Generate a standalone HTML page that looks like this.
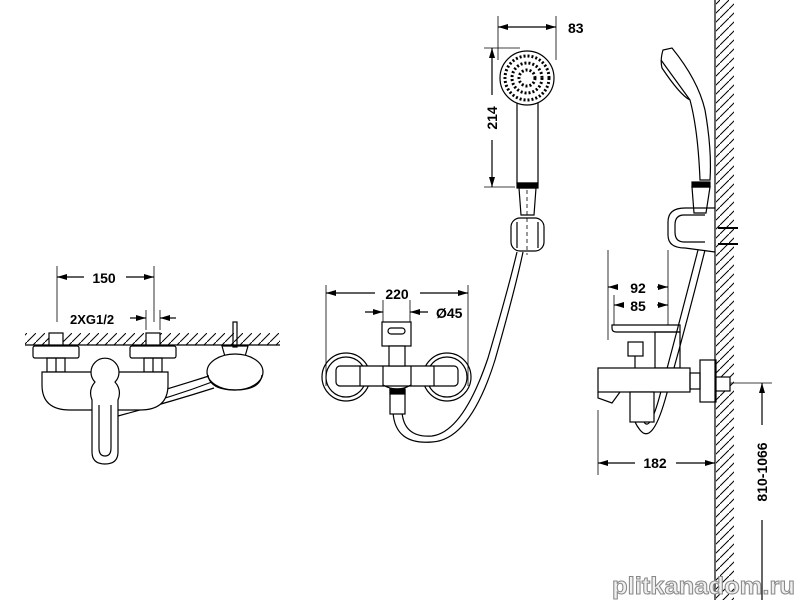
<!DOCTYPE html>
<html><head><meta charset="utf-8"><style>
html,body{margin:0;padding:0;background:#fff;}
svg{display:block;}
text{font-family:"Liberation Sans",Arial,sans-serif;font-weight:bold;fill:#000;}
</style></head><body>
<svg width="800" height="600" viewBox="0 0 800 600" xmlns="http://www.w3.org/2000/svg">
<defs>
<pattern id="h" width="9" height="9" patternUnits="userSpaceOnUse">
<line x1="0" y1="9" x2="9" y2="0" stroke="#000" stroke-width="1"/>
</pattern>
<marker id="a" viewBox="0 0 10 6" refX="10" refY="3" markerWidth="10" markerHeight="6" orient="auto-start-reverse" markerUnits="userSpaceOnUse">
<path d="M0,0 L10,3 L0,6 z" fill="#000"/>
</marker>
</defs>
<g fill="none" stroke="#000" stroke-width="1.2">

<!-- LEFT VIEW -->
<rect x="25" y="333" width="255" height="12" fill="url(#h)" stroke="none"/>
<line x1="25" y1="345" x2="280" y2="345"/>
<line x1="57" y1="266" x2="57" y2="322" stroke-width="0.8"/>
<line x1="154" y1="266" x2="154" y2="322" stroke-width="0.8"/>
<line x1="57" y1="277" x2="84" y2="277" marker-start="url(#a)"/>
<line x1="126" y1="277" x2="154" y2="277" marker-end="url(#a)"/>
<line x1="146" y1="310" x2="146" y2="330" stroke-width="0.8"/>
<line x1="160" y1="310" x2="160" y2="330" stroke-width="0.8"/>
<line x1="130" y1="318" x2="146" y2="318" marker-end="url(#a)"/>
<line x1="176" y1="318" x2="160" y2="318" marker-end="url(#a)"/>
<rect x="49" y="333" width="14" height="12" fill="#fff"/>
<rect x="146" y="333" width="14" height="12" fill="#fff"/>
<rect x="33" y="346" width="46" height="12" rx="2"/>
<rect x="130" y="346" width="46" height="12" rx="2"/>
<rect x="47" y="358" width="18" height="14"/><line x1="56" y1="358" x2="56" y2="372"/>
<rect x="144" y="358" width="18" height="14"/><line x1="153" y1="358" x2="153" y2="372"/>
<path d="M120,403 Q165,390 212,375 M122,410 Q170,398 212,382 M118,416 Q170,402 214,388"/>
<path d="M42,372 H168 V385 Q168,410 140,410 H70 Q42,410 42,385 Z" fill="#fff"/>
<path d="M92,400 Q88,390 95,382 A14,14 0 1 1 115,382 Q122,390 118,400 L118,452 Q118,464 105,464 Q92,464 92,452 Z" fill="#fff"/>
<path d="M99,405 V448 Q99,456 105,456 Q111,456 111,448 V405"/>
<rect x="233" y="322" width="4" height="25"/>
<path d="M222,346 H248 L244,360 H226 Z"/>
<ellipse cx="235" cy="372" rx="28" ry="18" fill="#fff"/>
<path d="M208,375 Q210,390 235,390 Q260,390 262,375"/>

<!-- MIDDLE VIEW -->
<line x1="326" y1="285" x2="326" y2="386" stroke-width="0.8"/>
<line x1="468" y1="285" x2="468" y2="386" stroke-width="0.8"/>
<line x1="326" y1="293" x2="375" y2="293" marker-start="url(#a)"/>
<line x1="420" y1="293" x2="468" y2="293" marker-end="url(#a)"/>
<line x1="383" y1="300" x2="383" y2="345" stroke-width="0.8"/>
<line x1="410" y1="300" x2="410" y2="345" stroke-width="0.8"/>
<line x1="365" y1="312" x2="383" y2="312" marker-end="url(#a)"/>
<line x1="428" y1="312" x2="410" y2="312" marker-end="url(#a)"/>
<circle cx="346" cy="377" r="24"/><circle cx="346" cy="377" r="20"/>
<circle cx="447" cy="377" r="24"/><circle cx="447" cy="377" r="20"/>
<path d="M393,412 Q395,445 432,442 Q470,440 495,360 Q515,290 523,252"/>
<path d="M402,412 Q404,438 432,436 Q463,432 488,358 Q508,290 517,252"/>
<rect x="336" y="366" width="122" height="20" rx="4" fill="#fff"/>
<line x1="360" y1="366" x2="360" y2="386"/><line x1="434" y1="366" x2="434" y2="386"/>
<path d="M383,366 V385 Q397,393 411,385 V366"/>
<rect x="382" y="322" width="29" height="24" fill="#fff"/>
<rect x="388" y="328" width="17" height="6" rx="3"/>
<rect x="389" y="346" width="16" height="20" fill="#fff"/>
<rect x="390" y="389" width="15" height="25" fill="#fff"/>
<rect x="390" y="389" width="15" height="5" fill="#000"/>
<line x1="498" y1="16" x2="498" y2="60" stroke-width="0.8"/>
<line x1="556" y1="16" x2="556" y2="60" stroke-width="0.8"/>
<line x1="498" y1="27" x2="556" y2="27" marker-start="url(#a)" marker-end="url(#a)"/>
<line x1="484" y1="48" x2="520" y2="48" stroke-width="0.8"/>
<line x1="484" y1="187" x2="515" y2="187" stroke-width="0.8"/>
<line x1="492" y1="48" x2="492" y2="95" marker-start="url(#a)"/>
<line x1="492" y1="140" x2="492" y2="187" marker-end="url(#a)"/>
<rect x="517" y="100" width="21" height="83"/>
<circle cx="527" cy="78" r="27" fill="#fff"/>
<circle cx="527" cy="78" r="22" stroke-width="3" stroke-dasharray="2 2"/>
<circle cx="527" cy="78" r="15" stroke-width="3" stroke-dasharray="2 2"/>
<circle cx="527" cy="78" r="8" stroke-width="3" stroke-dasharray="2 2"/>
<rect x="517" y="183" width="21" height="5" fill="#000"/>
<path d="M519,188 H536 L534,215 H521 Z"/>
<rect x="511" y="218" width="33" height="33" rx="9" fill="#fff"/>
<line x1="517" y1="222" x2="517" y2="248"/><line x1="538" y1="222" x2="538" y2="248"/>
<line x1="527" y1="190" x2="527" y2="255" stroke-dasharray="4 3" stroke-width="0.8"/>

<!-- RIGHT VIEW -->
<rect x="716" y="0" width="18" height="600" fill="url(#h)" stroke="none"/>
<line x1="715" y1="0" x2="715" y2="600"/>
<path d="M663,50 Q660,60 662,68 Q680,95 690,100 Q698,130 700,180 H710 Q712,150 705,110 Q698,80 672,48 Z" fill="#fff"/>
<path d="M661,60 L690,100"/>
<rect x="692" y="182" width="18" height="5" fill="#000"/>
<path d="M692,187 H710 L706,213 H694 Z"/>
<path d="M715,208 H685 Q668,208 668,222 V235 Q668,248 685,248 L715,252"/>
<path d="M705,215 H684 Q675,215 675,225 V232 Q675,242 684,242 H705"/>
<path d="M718,228 H738 M718,244 H738" stroke-width="2"/>
<path d="M705,250 Q685,330 665,400 Q652,445 640,430 Q632,420 632,408"/>
<path d="M698,250 Q680,320 660,395 Q650,432 644,422"/>
<line x1="608" y1="250" x2="608" y2="340" stroke-width="0.8"/>
<line x1="668" y1="250" x2="668" y2="325" stroke-width="0.8"/>
<line x1="614" y1="295" x2="614" y2="325" stroke-width="0.8"/>
<line x1="608" y1="287" x2="618" y2="287" marker-start="url(#a)"/>
<line x1="657" y1="287" x2="668" y2="287" marker-end="url(#a)"/>
<line x1="614" y1="305" x2="622" y2="305" marker-start="url(#a)"/>
<line x1="657" y1="305" x2="668" y2="305" marker-end="url(#a)"/>
<path d="M612,325 H680 V332 H616 Q612,332 612,328 Z"/>
<rect x="655" y="332" width="25" height="36"/>
<rect x="628" y="342" width="15" height="14"/><line x1="635" y1="356" x2="635" y2="368"/>
<rect x="598" y="368" width="92" height="24" fill="#fff"/>
<path d="M598,392 V398 L612,403 L620,392"/>
<rect x="630" y="392" width="24" height="30" fill="#fff"/>
<rect x="690" y="373" width="10" height="16"/>
<rect x="700" y="360" width="16" height="42"/>
<rect x="716" y="377" width="14" height="14" fill="#fff"/>
<line x1="598" y1="410" x2="598" y2="475" stroke-width="0.8"/>
<line x1="598" y1="463" x2="635" y2="463" marker-start="url(#a)"/>
<line x1="676" y1="463" x2="715" y2="463" marker-end="url(#a)"/>
<line x1="730" y1="383" x2="772" y2="383" stroke-width="0.8"/>
<line x1="762" y1="383" x2="762" y2="425" marker-start="url(#a)"/>
<line x1="762" y1="520" x2="762" y2="600"/>
</g>
<text x="104" y="283" font-size="14" text-anchor="middle">150</text>
<text x="70" y="324" font-size="13">2XG1/2</text>
<text x="397" y="299" font-size="14" text-anchor="middle">220</text>
<text x="436" y="318" font-size="14">Ø45</text>
<text x="568" y="33" font-size="14">83</text>
<text transform="translate(497,118) rotate(-90)" font-size="14" text-anchor="middle">214</text>
<text x="638" y="293" font-size="14" text-anchor="middle">92</text>
<text x="638" y="311" font-size="14" text-anchor="middle">85</text>
<text x="655" y="468" font-size="14" text-anchor="middle">182</text>
<text transform="translate(767,472) rotate(-90)" font-size="14" text-anchor="middle">810-1066</text>
<text x="612" y="594" font-size="24" textLength="183" lengthAdjust="spacingAndGlyphs" style="fill:#f0f0f0;stroke:#888;stroke-width:1">plitkanadom.ru</text>
</svg>
</body></html>
